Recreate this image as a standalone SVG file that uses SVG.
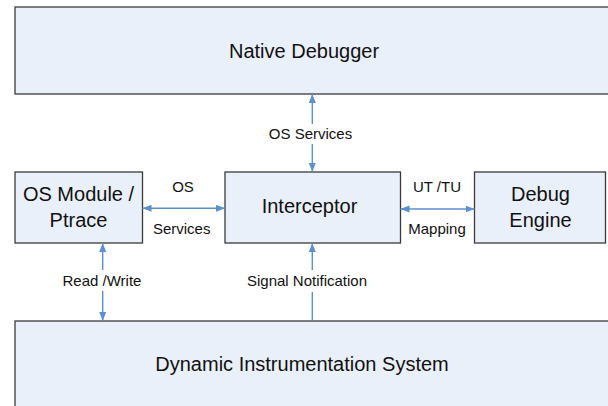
<svg xmlns="http://www.w3.org/2000/svg" width="608" height="406" viewBox="0 0 608 406">
<style>
.box{fill:#EAF0F9;stroke:#3a3a3a;stroke-width:1.3}
.big{font-family:"Liberation Sans",Arial,sans-serif;font-size:20px;fill:#111;text-anchor:middle}
.lbl{font-family:"Liberation Sans",Arial,sans-serif;font-size:15px;fill:#111;text-anchor:middle}
.con{stroke:#5B8FD0;stroke-width:1.4;fill:none}
.bg{fill:#fff}
</style>
<defs>
<marker id="ah" markerUnits="userSpaceOnUse" markerWidth="10" markerHeight="8" refX="9" refY="3.5" orient="auto-start-reverse">
<path d="M0,0 L9,3.5 L0,7 z" fill="#5B8FD0"/>
</marker>
</defs>
<rect width="608" height="406" fill="#fff"/>
<g id="native-debugger">
<rect class="box" x="15" y="7" width="600" height="87"/>
<text class="big" x="304" y="58">Native Debugger</text>
</g>
<g id="os-module">
<rect class="box" x="15" y="172" width="127.5" height="71"/>
<text class="big" x="78.5" y="201">OS Module /</text>
<text class="big" x="78.5" y="227">Ptrace</text>
</g>
<g id="interceptor">
<rect class="box" x="225" y="172" width="175.5" height="71"/>
<text class="big" x="309.5" y="213">Interceptor</text>
</g>
<g id="debug-engine">
<rect class="box" x="474.5" y="172" width="131" height="71"/>
<text class="big" x="540.5" y="201">Debug</text>
<text class="big" x="540.5" y="227">Engine</text>
</g>
<g id="dis">
<rect class="box" x="15" y="321" width="600" height="100"/>
<text class="big" x="302" y="371">Dynamic Instrumentation System</text>
</g>
<g id="connectors">
<path class="con" d="M312.3,172 V94" marker-start="url(#ah)" marker-end="url(#ah)"/>
<rect class="bg" x="264" y="124" width="92" height="20"/>
<text class="lbl" x="310.5" y="139">OS Services</text>
<path class="con" d="M142.5,208.3 H225" marker-start="url(#ah)" marker-end="url(#ah)"/>
<text class="lbl" x="183" y="192">OS</text>
<text class="lbl" x="181.7" y="234">Services</text>
<path class="con" d="M400.5,209 H474.5" marker-start="url(#ah)" marker-end="url(#ah)"/>
<text class="lbl" x="437" y="192">UT /TU</text>
<text class="lbl" x="437" y="234">Mapping</text>
<path class="con" d="M102.7,243 V321" marker-start="url(#ah)" marker-end="url(#ah)"/>
<rect class="bg" x="58" y="270" width="88" height="21"/>
<text class="lbl" x="102" y="286">Read /Write</text>
<path class="con" d="M312.3,321 V243" marker-end="url(#ah)"/>
<rect class="bg" x="243" y="270" width="128" height="22"/>
<text class="lbl" x="307" y="286">Signal Notification</text>
</g>
</svg>
